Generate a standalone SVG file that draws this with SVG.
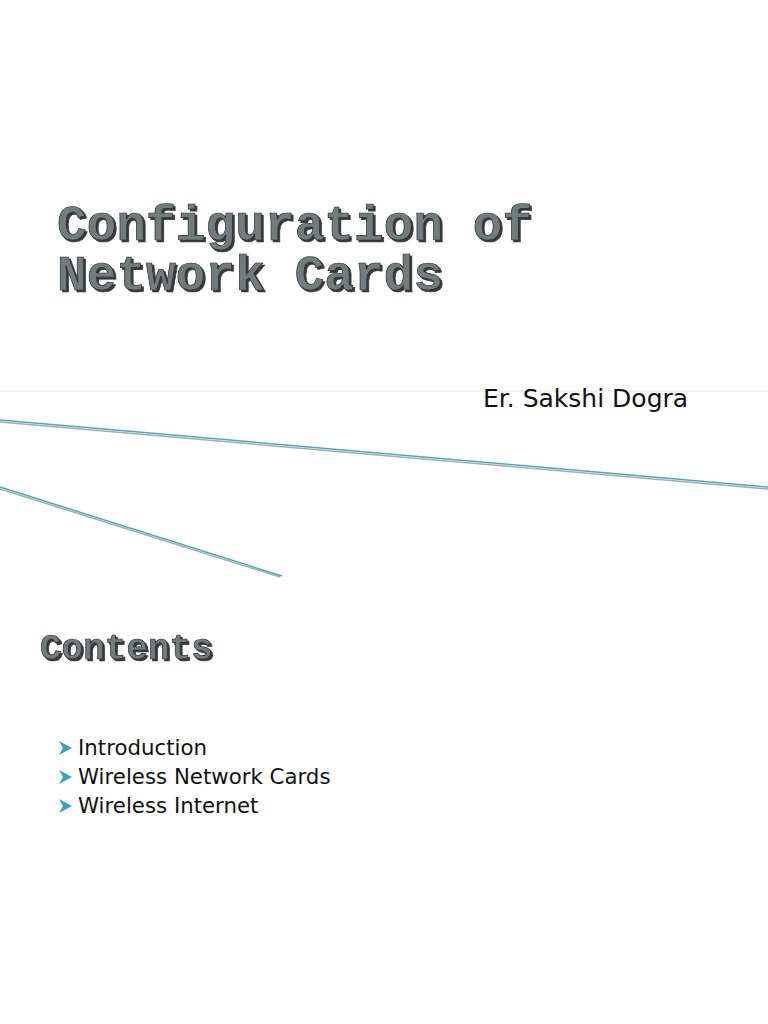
<svg xmlns="http://www.w3.org/2000/svg" width="768" height="1024" viewBox="0 0 768 1024">
<defs>
<filter id="ds" x="-5%" y="-20%" width="110%" height="140%">
<feDropShadow dx="2" dy="2" stdDeviation="0.6" flood-color="#222" flood-opacity="0.9"/>
</filter>
</defs>
<style>
.t{font-family:"Liberation Mono",monospace;font-weight:bold;fill:#6f7b7d;stroke:#2a2f30;stroke-width:0.7;filter:url(#ds)}
.b{font-family:"DejaVu Sans",sans-serif;font-size:21.3px;fill:#111}
.ar{fill:#3a9fc0}
</style>
<rect width="768" height="1024" fill="#fff"/>
<line x1="0" y1="391" x2="768" y2="391" stroke="#e4e4e4" stroke-width="1"/>
<g stroke-width="1.5">
<line x1="0" y1="422" x2="768" y2="489" stroke="#aaa"/>
<line x1="0" y1="420" x2="768" y2="487" stroke="#4aa9c0"/>
<line x1="0" y1="489" x2="280" y2="577" stroke="#aaa"/>
<line x1="0" y1="487" x2="282" y2="576" stroke="#4aa9c0"/>
</g>
<g id="title">
<text class="t" font-size="49.5" x="57" y="240">Configuration of</text>
<text class="t" font-size="49.5" x="57" y="290">Network Cards</text>
</g>
<text x="483" y="407" font-family="DejaVu Sans,sans-serif" font-size="25" fill="#111">Er. Sakshi Dogra</text>
<g id="contents">
<text class="t" font-size="36" x="40" y="659">Contents</text>
</g>
<g id="bullets">
<polygon class="ar" points="59,741 72,748 59,755 63,748"/>
<text class="b" x="78" y="755">Introduction</text>
<polygon class="ar" points="59,770 72,777 59,784 63,777"/>
<text class="b" x="78" y="784">Wireless Network Cards</text>
<polygon class="ar" points="59,799 72,806 59,813 63,806"/>
<text class="b" x="78" y="813">Wireless Internet</text>
</g>
</svg>
